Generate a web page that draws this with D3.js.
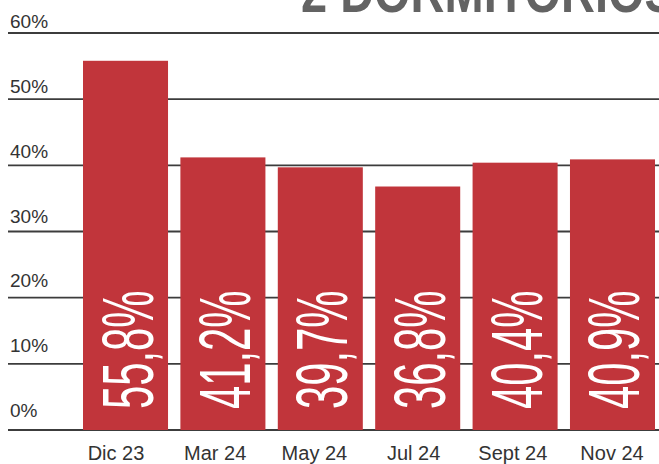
<!DOCTYPE html>
<html>
<head>
<meta charset="utf-8">
<script src="https://cdn.jsdelivr.net/npm/d3@7"></script>
<style>
    body { margin: 0; background: #fff; }
    svg { display: block; }
</style>
</head>
<body>
<div id="chart"></div>
<script>
(function() {

    var width = 659;
    var height = 464;

    var categories = ["Dic 23", "Mar 24", "May 24", "Jul 24", "Sept 24", "Nov 24"];
    var values = [55.8, 41.2, 39.7, 36.8, 40.4, 40.9];
    var labels = ["55,8%", "41,2%", "39,7%", "36,8%", "40,4%", "40,9%"];
    var yTicks = [0, 10, 20, 30, 40, 50, 60];
    var title = "2 DORMITORIOS";

    var svg = d3.select("#chart")
        .append("svg")
        .attr("width", width)
        .attr("height", height);

    var y = d3.scaleLinear().domain([0, 60]).range([430, 33]);
    // tick labels sit a bit off the gridlines in the original
    var yLabel = d3.scaleLinear().domain([0, 60]).range([417, 28]);

    var x = d3.scaleBand()
        .domain(categories)
        .range([83, 655])
        .paddingInner(0.127)
        .paddingOuter(0);

    var xLabel = d3.scalePoint().domain(categories).range([116, 612]);

    // title, cut off by the top edge (as in the original)
    svg.append("text")
        .attr("transform", "translate(301,12) scale(0.81,1)")
        .style("font-family", "'Liberation Sans', Arial, sans-serif")
        .style("font-weight", "bold")
        .style("font-size", "58px")
        .style("fill", "#636363")
        .text(title);

    // gridlines
    svg.selectAll(".grid")
        .data(yTicks)
        .enter().append("line")
        .attr("class", "grid")
        .attr("x1", 8)
        .attr("x2", width)
        .attr("y1", function(d) { return y(d); })
        .attr("y2", function(d) { return y(d); })
        .attr("stroke", "#3c3c3c")
        .attr("stroke-width", 1.8);

    svg.selectAll(".ylab")
        .data(yTicks)
        .enter().append("text")
        .attr("class", "ylab")
        .attr("x", 10)
        .attr("y", function(d) { return yLabel(d); })
        .style("font-family", "'Liberation Sans', Arial, sans-serif")
        .style("font-size", "19px")
        .style("fill", "#333")
        .text(function(d) { return d + "%"; });

    // bars
    svg.selectAll(".bar")
        .data(values)
        .enter().append("rect")
        .attr("class", "bar")
        .attr("x", function(d, i) { return x(categories[i]); })
        .attr("y", function(d) { return y(d); })
        .attr("width", x.bandwidth())
        .attr("height", function(d) { return y(0) - y(d); })
        .attr("fill", "#c1353b");

    // value labels inside bars
    svg.selectAll(".vlab")
        .data(labels)
        .enter().append("text")
        .attr("class", "vlab")
        .attr("transform", function(d, i) {
            var cx = x(categories[i]) + x.bandwidth() / 2;
            return "translate(" + (cx + 27) + ",409) rotate(-90) scale(0.58,1)";
        })
        .style("font-family", "'Liberation Sans', Arial, sans-serif")
        .style("font-size", "72px")
        .style("fill", "#fff")
        .text(function(d) { return d; });

    svg.selectAll(".xlab")
        .data(categories)
        .enter().append("text")
        .attr("class", "xlab")
        .attr("x", function(d) { return xLabel(d); })
        .attr("y", 460)
        .attr("text-anchor", "middle")
        .style("font-family", "'Liberation Sans', Arial, sans-serif")
        .style("font-size", "20px")
        .style("fill", "#333")
        .text(function(d) { return d; });

})();
</script>
</body>
</html>
